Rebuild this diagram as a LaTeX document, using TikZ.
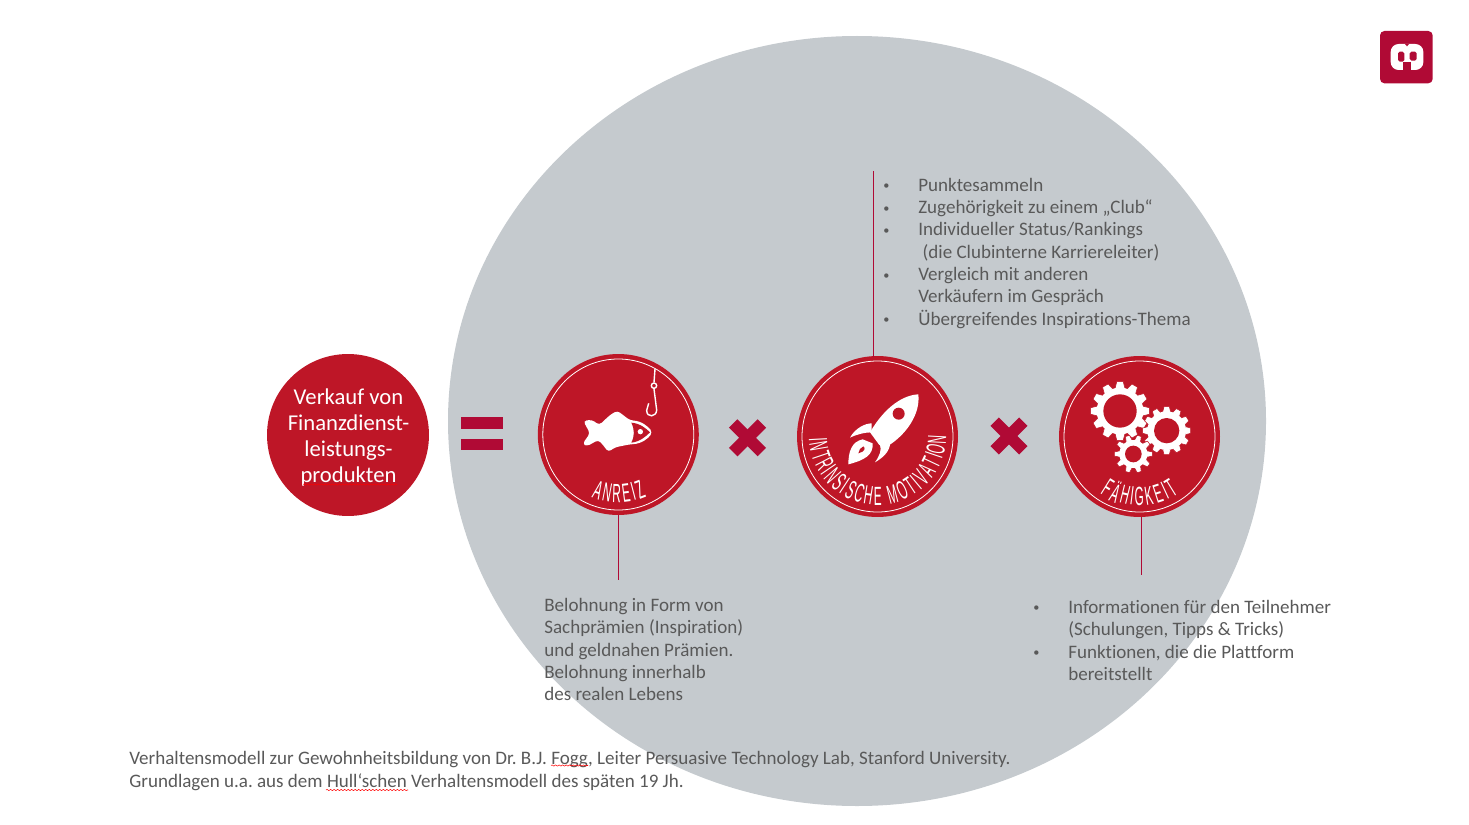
\documentclass[tikz,border=0pt]{standalone}
\usepackage{fontspec}
\setmainfont[Ligatures=NoCommon]{Carlito}
\newfontfamily\badgefont{Liberation Sans}
\usetikzlibrary{calc,decorations.pathmorphing}
\definecolor{badgered}{HTML}{BE1627}
\definecolor{signred}{HTML}{B00A35}
\definecolor{discgray}{HTML}{C5CACE}
\definecolor{bodygray}{HTML}{595959}
\newcommand{\bul}{\makebox[19.9pt][l]{\raisebox{.8pt}{\scriptsize\textbullet}}}
\newcommand{\gearwheel}[6]{% x, y, outer, root, hole, teeth
  \foreach \k in {1,...,#6} {
    \pgfmathsetmacro\a{\k*360/#6}
    \fill[white, draw=badgered, line width=.3pt, shift={(#1,#2)}, rotate=\a]
      (#4-3,-#3*.17) -- (#3,-#3*.11) -- (#3,#3*.11) -- (#4-3,#3*.17) -- cycle;
  }
  \fill[white] (#1,#2) circle (#4);
  \fill[badgered] (#1,#2) circle (#5);
}
\tikzset{
  badge/.style={circle, fill=badgered, text=white, minimum size=3.22cm, inner sep=0pt, outer sep=0pt},
  ring/.style={white, line width=.45pt},
  spoke/.style={signred, line width=.5pt},
  bodytext/.style={text=bodygray, anchor=north west, inner sep=0pt, align=left, font=\fontsize{10.84}{12.7}\selectfont},
  badgeletter/.style={text=white, inner sep=0pt, font=\badgefont\fontsize{15}{15}\selectfont},
  crossbar/.style={signred, line width=6.8pt},
  spellmark/.style={red, line width=.3pt, decorate, decoration={snake, amplitude=.35pt, segment length=2pt}}
}
\frenchspacing
\begin{document}
\begin{tikzpicture}[x=0.02cm, y=-0.02cm]
  \useasboundingbox (0,0) rectangle (1469,824);
  \fill[discgray] (857,421) ellipse [x radius=409, y radius=385];

  % circles
  \node[badge, minimum size=3.24cm] (sales) at (348,435) {};
  \node[text=white, align=center, inner sep=0pt, font=\fontsize{12.9}{14.8}\selectfont] (salestext) at (348.5,437.5)
    {Verkauf von\\Finanzdienst-\\leistungs-\\produkten};
  \node[badge] (anreiz) at (618.3,434.5) {};
  \node[badge] (motivation) at (877.5,436.5) {};
  \node[badge] (faehigkeit) at (1139.5,436.5) {};
  \foreach \n in {anreiz,motivation,faehigkeit} {
    \draw[ring] (\n) circle (75.5);
  }

  % equals and times signs
  \fill[signred] (461,417) rectangle (503,428.7);
  \fill[signred] (461,439) rectangle (503,450);
  \foreach \cx/\cy in {747.5/437.8,1009/436} {
    \draw[crossbar] (\cx-14.3,\cy-14.3) -- (\cx+14.3,\cy+14.3);
    \draw[crossbar] (\cx-14.3,\cy+14.3) -- (\cx+14.3,\cy-14.3);
  }

  % lines to the texts
  \coordinate (anreizfoot) at (618.3,580);
  \coordinate (motivationtop) at (873,171);
  \coordinate (motivationfoot) at (873,356.5);
  \coordinate (faehigkeithead) at (1141,516.5);
  \coordinate (faehigkeitfoot) at (1141,575);
  \draw[spoke] (anreiz.south) -- (anreizfoot);
  \draw[spoke] (motivationtop) -- (motivationfoot);
  \draw[spoke] (faehigkeithead) -- (faehigkeitfoot);

  % fish and hook
  \begin{scope}[shift={(530,345)}, scale=1/3]
    \fill[white, rounded corners=1.8pt] (160,228) -- (185,224) -- (208,240) -- (240,210) -- (262,197) -- (300,226)
      .. controls (335,228) and (355,245) .. (367,262) .. controls (355,280) and (335,296) .. (300,298)
      -- (255,307) -- (235,321) -- (215,295) -- (205,285) -- (170,304) -- (158,296) -- (180,265) -- cycle;
    \fill[badgered] (304,233) .. controls (330,235) and (348,250) .. (360,262)
      .. controls (348,274) and (330,290) .. (304,293) .. controls (314,272) and (314,255) .. (304,233);
    \fill[white] (331,260) circle (8);
    \draw[white, line width=.8pt] (375,72) -- (372,112);
    \draw[white, line width=.8pt, fill=badgered] (372,122) circle (8);
    \draw[white, line width=.8pt] (372,132) -- (380,195) .. controls (380,216) and (350,220) .. (350,196) -- (356,175);
  \end{scope}

  % rocket
  \begin{scope}[shift={(790,345)}, scale=1/3]
    \fill[white] (385,148) .. controls (340,150) and (285,185) .. (240,262) -- (268,300) -- (298,300)
      .. controls (345,270) and (392,210) .. (385,148);
    \fill[badgered] (326,206) circle (18);
    \fill[white] (245,235) .. controls (225,235) and (195,250) .. (180,278) .. controls (200,268) and (225,262) .. (245,262) -- cycle;
    \fill[white] (298,270) -- (300,300) .. controls (295,325) and (275,340) .. (255,352)
      .. controls (270,330) and (275,315) .. (270,300) -- cycle;
    \fill[white] (175,358) .. controls (175,320) and (185,290) .. (218,283) -- (248,295)
      .. controls (250,330) and (225,345) .. (175,358);
    \fill[badgered] (205,325) .. controls (206,315) and (212,308) .. (220,304) .. controls (228,310) and (224,320) .. (205,325);
  \end{scope}

  % gears
  \begin{scope}[shift={(1050,345)}, scale=1/3]
    \gearwheel{210}{198}{88}{70}{50}{12}
    \gearwheel{350}{257}{72}{58}{38}{12}
    \gearwheel{250}{327}{57}{42}{25}{10}
  \end{scope}

  % badge lettering
  \foreach \ch/\pos [count=\i] in {A/0,N/1,R/2,E/3,I/3.75,Z/4.5} {
    \pgfmathsetmacro\a{110-9.2*\pos}
    \node[badgeletter, name=anreiz-\i, rotate=90-\a, xscale=.45] at ($(anreiz)+(\a:59)$) {\ch};
  }
  \foreach \ch/\pos [count=\i] in {I/0,N/.75,T/1.75,R/2.75,I/3.5,N/4.25,S/5.25,I/6,S/6.75,C/7.75,H/8.75,E/9.75,M/11.35,O/12.45,T/13.45,I/14.2,V/14.95,A/15.95,T/16.95,I/17.7,O/18.45,N/19.45} {
    \pgfmathsetmacro\a{177-8.95*\pos}
    \node[badgeletter, name=motivation-\i, rotate=90-\a, xscale=.45] at ($(motivation)+(\a:59.5)$) {\ch};
  }
  \foreach \ch/\pos [count=\i] in {F/0,Ä/1,H/2,I/2.75,G/3.5,K/4.5,E/5.5,I/6.25,T/7} {
    \pgfmathsetmacro\a{122-9.1*\pos}
    \node[badgeletter, name=faehigkeit-\i, rotate=90-\a, xscale=.45] at ($(faehigkeit)+(\a:60)$) {\ch};
  }

  % texts
  \node[bodytext] (motivationtext) at (883,177.7) {\bul Punktesammeln\\
    \bul Zugehörigkeit zu einem „Club“\\
    \bul Individueller Status/Rankings\\
    \hspace*{19.9pt} (die Clubinterne Karriereleiter)\\
    \bul Vergleich mit anderen\\
    \hspace*{19.9pt}Verkäufern im Gespräch\\
    \bul Übergreifendes Inspirations-Thema};
  \node[bodytext] (anreiztext) at (544,597.8) {Belohnung in Form von\\
    Sachprämien (Inspiration)\\
    und geldnahen Prämien.\\
    Belohnung innerhalb\\
    des realen Lebens};
  \node[bodytext] (faehigkeittext) at (1033,599.8) {\bul Informationen für den Teilnehmer\\
    \hspace*{19.9pt}(Schulungen, Tipps \& Tricks)\\
    \bul Funktionen, die die Plattform\\
    \hspace*{19.9pt}bereitstellt};
  \node[bodytext, font=\fontsize{10.84}{13.1}\selectfont] (source) at (129,751) {Verhaltensmodell zur Gewohnheitsbildung von Dr. B.J. Fogg, Leiter Persuasive Technology Lab, Stanford University.\\
    Grundlagen u.a. aus dem Hull‘schen Verhaltensmodell des späten 19 Jh.};

  % spell check marks
  \draw[spellmark] (303,484.5) -- (397,484.5);
  \draw[spellmark] (551,765.5) -- (588,765.5);
  \draw[spellmark] (326,790) -- (408,790);

  % logo
  \begin{scope}[shift={(1370,20)}, scale=1/3]
    \fill[signred, rounded corners=2.5pt] (30,33) rectangle (188,190);
    \fill[white, rounded corners=4.5pt] (62,72) rectangle (160,150);
    \fill[signred] (105,72) -- (117,72) -- (111,79) -- cycle;
    \fill[signred, rounded corners=1pt] (84,95) rectangle (103,125);
    \fill[signred, rounded corners=1pt] (119,95) rectangle (140,122);
    \fill[signred] (100,150) -- (100,125) -- (123,125) -- (123,150) -- cycle;
  \end{scope}
\end{tikzpicture}
\end{document}
